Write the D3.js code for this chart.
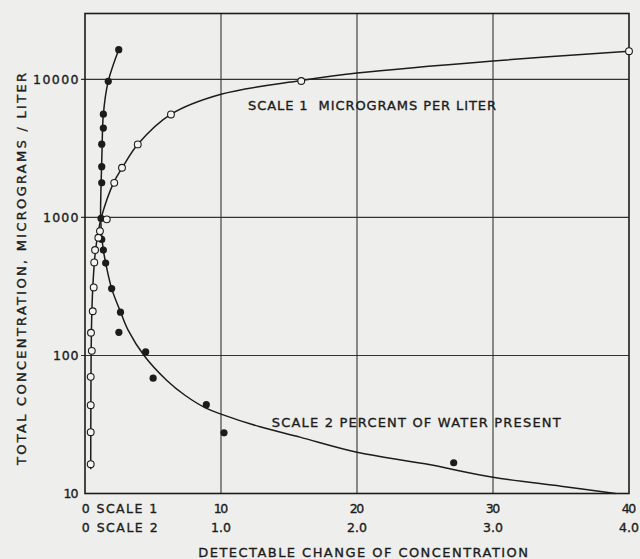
<!DOCTYPE html>
<html>
<head>
<meta charset="utf-8">
<script src="https://cdn.jsdelivr.net/npm/d3@7"></script>
<style>
  html, body { margin: 0; padding: 0; background: #eeeeec; }
  svg { display: block; }
  text { font-family: "DejaVu Sans", sans-serif; fill: #1c1c1c; stroke: #1c1c1c; stroke-width: 0.35; white-space: pre; }
</style>
</head>
<body>
<div id="chart"></div>
<script>
/*------------------- Data -------------------------------------------*/
// open circles: scale 1, micrograms per liter  [detectable change, total conc]
const scale1Points = [
    [0.42, 16.3], [0.42, 27.8], [0.42, 43.6], [0.42, 70], [0.50, 108],
    [0.44, 146], [0.57, 209], [0.64, 311], [0.68, 472], [0.74, 580],
    [0.98, 712], [1.10, 796], [1.60, 968], [2.15, 1780], [2.72, 2290],
    [3.88, 3380], [6.32, 5570], [15.9, 9730], [40, 16000]
];
// filled circles: scale 2, percent of water present
const scale2Points = [
    [0.248, 16400], [0.171, 9680], [0.135, 5600], [0.135, 4440], [0.123, 3390],
    [0.123, 2330], [0.123, 1780], [0.118, 984], [0.123, 693], [0.135, 580],
    [0.152, 467], [0.196, 305], [0.261, 206], [0.249, 147], [0.446, 106],
    [0.501, 68.5], [0.892, 44], [1.022, 27.5], [2.711, 16.7]
];
// hand drawn fitted curves
const scale1Curve = [
    [0.42, 15], [0.43, 40], [0.45, 100], [0.50, 200], [0.60, 350], [0.75, 550],
    [0.95, 760], [1.20, 1000], [2.10, 1780], [2.75, 2300], [3.90, 3400],
    [6.30, 5570], [10, 7800], [15.9, 9800], [20, 11100], [30, 13600], [40, 16000]
];
const scale2Curve = [
    [0.248, 16400], [0.171, 9700], [0.135, 5600], [0.125, 3000], [0.118, 1700],
    [0.115, 1000], [0.125, 700], [0.135, 580], [0.152, 467], [0.196, 305],
    [0.262, 206], [0.318, 152], [0.434, 100], [0.60, 66.2], [0.735, 51.5],
    [0.89, 41.5], [1.0, 37.6], [1.287, 30.4], [1.58, 25.6], [2.0, 19.9],
    [2.5, 16.4], [3.0, 13.1], [3.5, 11.3], [3.9, 10]
];
const yTicks = [10, 100, 1000, 10000];
const xTicks1 = [10, 20, 30, 40];
const xTicks2 = ["1.0", "2.0", "3.0", "4.0"];

/*------------------- Setup --------------------*/
const width = 640, height = 559;
const plot = { left: 85, right: 629, top: 13.5, bottom: 493.5 };

const svg = d3.select("#chart").append("svg")
    .attr("width", width)
    .attr("height", height);

svg.append("rect").attr("width", width).attr("height", height).attr("fill", "#eeeeec");

const x1 = d3.scaleLinear().domain([0, 40]).range([plot.left, plot.right]);
const x2 = d3.scaleLinear().domain([0, 4]).range([plot.left, plot.right]);
const y = d3.scaleLog().domain([10, 30000]).range([plot.bottom, plot.top]);

const ink = "#1c1c1c";

/*------------------- Grid --------------------*/
svg.append("g").selectAll("line")
    .data(yTicks.slice(1))
    .join("line")
    .attr("x1", plot.left - 4).attr("x2", plot.right)
    .attr("y1", d => y(d)).attr("y2", d => y(d))
    .attr("stroke", "#333").attr("stroke-width", 1.1);

svg.append("g").selectAll("line")
    .data(xTicks1.slice(0, 3))
    .join("line")
    .attr("x1", d => x1(d)).attr("x2", d => x1(d))
    .attr("y1", plot.top).attr("y2", plot.bottom)
    .attr("stroke", "#333").attr("stroke-width", 1.1);

svg.append("rect")
    .attr("x", plot.left).attr("y", plot.top)
    .attr("width", plot.right - plot.left).attr("height", plot.bottom - plot.top)
    .attr("fill", "none").attr("stroke", ink).attr("stroke-width", 1.6);

/*------------------- Curves --------------------*/
const line1 = d3.line().x(d => x1(d[0])).y(d => y(d[1])).curve(d3.curveCatmullRom.alpha(0.5));
const line2 = d3.line().x(d => x2(d[0])).y(d => y(d[1])).curve(d3.curveCatmullRom.alpha(0.5));

svg.append("path").attr("d", line1(scale1Curve))
    .attr("fill", "none").attr("stroke", ink).attr("stroke-width", 1.5);
svg.append("path").attr("d", line2(scale2Curve))
    .attr("fill", "none").attr("stroke", ink).attr("stroke-width", 1.5);

/*------------------- Points --------------------*/
svg.append("g").selectAll("circle")
    .data(scale2Points)
    .join("circle")
    .attr("cx", d => x2(d[0])).attr("cy", d => y(d[1]))
    .attr("r", 3.6)
    .attr("fill", ink);

svg.append("g").selectAll("circle")
    .data(scale1Points)
    .join("circle")
    .attr("cx", d => x1(d[0])).attr("cy", d => y(d[1]))
    .attr("r", 3.4)
    .attr("fill", "#f4f4f2").attr("stroke", ink).attr("stroke-width", 1.1);

/*------------------- Text --------------------*/
function label(txt, x, yy, len, anchor, size) {
    const t = svg.append("text")
        .attr("x", x).attr("y", yy)
        .attr("font-size", size || 13)
        .attr("text-anchor", anchor || "start")
        .text(txt);
    if (len) t.attr("textLength", len).attr("lengthAdjust", "spacing");
    return t;
}

// y tick labels
const yTickLen = { 10: 15, 100: 25.5, 1000: 35.5, 10000: 45.5 };
yTicks.forEach(d => label(d, 78.5, y(d) + 4.6, yTickLen[d], "end", 12.5));

// x tick labels
label("0 SCALE 1", 81.7, 513, 75.5, "start", 12.5);
label("0 SCALE 2", 81.7, 532, 76, "start", 12.5);
xTicks1.forEach(d => label(d, x1(d), 513, 14.5, "middle", 12.5));
xTicks2.forEach((d, i) => label(d, x1(xTicks1[i]), 532, 20, "middle", 12.5));

// in-plot labels
label("SCALE 1  MICROGRAMS PER LITER", 248, 109.5, 248, "start", 13);
label("SCALE 2 PERCENT OF WATER PRESENT", 271.7, 427, 289, "start", 13);

// axis titles
label("DETECTABLE CHANGE OF CONCENTRATION", 198.3, 557, 329.7, "start", 13);
svg.append("text")
    .attr("transform", "translate(25.5,269) rotate(-90)")
    .attr("text-anchor", "middle")
    .attr("font-size", 13)
    .attr("textLength", 392).attr("lengthAdjust", "spacing")
    .text("TOTAL CONCENTRATION, MICROGRAMS / LITER");
</script>
</body>
</html>
